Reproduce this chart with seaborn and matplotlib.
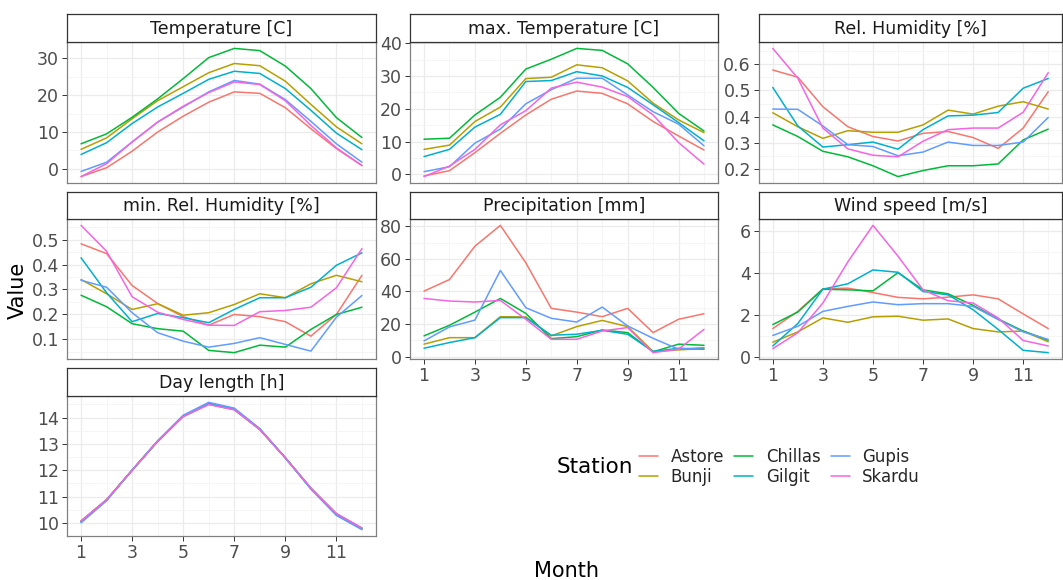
import numpy as np
import pandas as pd
import seaborn as sns
import matplotlib.pyplot as plt
from matplotlib.lines import Line2D

months = list(range(1, 13))
stations = ["Astore", "Bunji", "Chillas", "Gilgit", "Gupis", "Skardu"]
colors = ["#F8766D", "#B79F00", "#00BA38", "#00B0CC", "#619CFF", "#F564E3"]

variables = ["Temperature [C]", "max. Temperature [C]", "Rel. Humidity [%]",
             "min. Rel. Humidity [%]", "Precipitation [mm]", "Wind speed [m/s]",
             "Day length [h]"]

temperature = {
    "Astore":  [-2.1, 0.3, 4.8, 10.0, 14.3, 18.1, 20.9, 20.5, 16.6, 10.9, 5.5, 0.9],
    "Bunji":   [5.3, 8.4, 13.6, 18.5, 22.3, 26.1, 28.6, 28.0, 23.8, 17.5, 11.4, 6.8],
    "Chillas": [6.8, 9.5, 14.0, 19.0, 24.5, 30.2, 32.7, 32.1, 27.9, 21.8, 13.9, 8.5],
    "Gilgit":  [3.9, 7.1, 12.3, 16.8, 20.5, 24.3, 26.5, 25.9, 21.8, 15.9, 9.7, 5.2],
    "Gupis":   [-0.7, 1.8, 7.3, 12.7, 16.8, 20.9, 24.0, 23.0, 18.8, 12.9, 6.8, 1.8],
    "Skardu":  [-2.1, 1.4, 7.3, 12.7, 17.0, 20.7, 23.6, 22.9, 18.5, 11.8, 5.7, 0.9],
}
max_temperature = {
    "Astore":  [-0.5, 1.1, 6.6, 12.5, 18.1, 22.9, 25.4, 24.7, 21.5, 16.1, 11.7, 7.4],
    "Bunji":   [7.6, 8.9, 16.1, 20.5, 29.2, 29.6, 33.4, 32.5, 28.5, 21.7, 16.6, 12.7],
    "Chillas": [10.7, 11.0, 18.1, 23.5, 32.1, 35.1, 38.4, 37.8, 33.7, 26.5, 18.6, 13.2],
    "Gilgit":  [5.4, 7.6, 14.4, 18.3, 28.3, 28.6, 31.3, 30.0, 26.5, 21.2, 15.8, 10.2],
    "Gupis":   [0.8, 2.3, 9.5, 13.8, 21.5, 25.8, 29.3, 29.3, 24.2, 19.1, 15.3, 8.7],
    "Skardu":  [-0.7, 2.5, 7.6, 15.1, 19.4, 26.3, 28.1, 26.6, 23.7, 18.1, 9.7, 3.1],
}
rel_humidity = {
    "Astore":  [0.577, 0.550, 0.438, 0.362, 0.325, 0.308, 0.337, 0.344, 0.321, 0.280, 0.357, 0.495],
    "Bunji":   [0.415, 0.362, 0.318, 0.347, 0.341, 0.341, 0.369, 0.425, 0.410, 0.440, 0.457, 0.429],
    "Chillas": [0.369, 0.325, 0.269, 0.248, 0.214, 0.173, 0.196, 0.214, 0.214, 0.221, 0.312, 0.353],
    "Gilgit":  [0.511, 0.365, 0.285, 0.294, 0.304, 0.277, 0.351, 0.403, 0.406, 0.416, 0.508, 0.545],
    "Gupis":   [0.429, 0.428, 0.365, 0.294, 0.287, 0.252, 0.266, 0.304, 0.291, 0.291, 0.304, 0.397],
    "Skardu":  [0.659, 0.546, 0.357, 0.278, 0.254, 0.248, 0.307, 0.351, 0.357, 0.357, 0.417, 0.567],
}
min_rel_humidity = {
    "Astore":  [0.483, 0.444, 0.316, 0.244, 0.191, 0.157, 0.200, 0.191, 0.171, 0.113, 0.200, 0.357],
    "Bunji":   [0.340, 0.283, 0.220, 0.243, 0.197, 0.207, 0.240, 0.283, 0.267, 0.323, 0.357, 0.331],
    "Chillas": [0.277, 0.231, 0.163, 0.143, 0.133, 0.056, 0.047, 0.077, 0.069, 0.140, 0.200, 0.229],
    "Gilgit":  [0.427, 0.287, 0.171, 0.204, 0.187, 0.167, 0.220, 0.267, 0.267, 0.309, 0.397, 0.447],
    "Gupis":   [0.337, 0.309, 0.207, 0.127, 0.093, 0.069, 0.084, 0.107, 0.080, 0.053, 0.189, 0.276],
    "Skardu":  [0.557, 0.453, 0.271, 0.209, 0.180, 0.157, 0.156, 0.211, 0.216, 0.229, 0.307, 0.464],
}
precipitation = {
    "Astore":  [40.2, 47.3, 67.8, 80.6, 57.6, 29.6, 27.3, 24.5, 29.6, 14.7, 22.9, 26.3],
    "Bunji":   [7.6, 11.6, 11.6, 24.5, 24.3, 12.7, 18.4, 22.2, 18.4, 3.1, 4.1, 4.9],
    "Chillas": [12.7, 19.2, 27.3, 35.7, 26.5, 11.0, 12.2, 16.3, 14.7, 2.9, 7.6, 6.9],
    "Gilgit":  [5.1, 8.6, 11.6, 23.9, 23.9, 13.1, 13.7, 16.1, 13.7, 3.1, 5.1, 4.5],
    "Gupis":   [9.6, 18.2, 22.4, 52.9, 30.0, 23.5, 21.2, 30.4, 18.8, 11.2, 4.5, 5.5],
    "Skardu":  [35.7, 34.1, 33.5, 34.5, 22.9, 10.6, 10.6, 15.7, 17.8, 2.4, 4.5, 16.7],
}
wind_speed = {
    "Astore":  [1.34, 2.16, 3.24, 3.27, 3.06, 2.83, 2.76, 2.84, 2.95, 2.76, 2.04, 1.34],
    "Bunji":   [0.69, 1.18, 1.85, 1.64, 1.90, 1.93, 1.74, 1.80, 1.34, 1.18, 1.22, 0.71],
    "Chillas": [1.53, 2.13, 3.22, 3.19, 3.14, 4.01, 3.19, 3.00, 2.45, 1.80, 1.22, 0.79],
    "Gilgit":  [0.51, 1.58, 3.22, 3.48, 4.14, 4.03, 3.11, 2.95, 2.24, 1.30, 0.30, 0.19],
    "Gupis":   [1.01, 1.45, 2.16, 2.40, 2.61, 2.48, 2.53, 2.53, 2.40, 1.77, 1.18, 0.82],
    "Skardu":  [0.38, 1.14, 2.56, 4.53, 6.27, 4.80, 3.19, 2.67, 2.56, 1.85, 0.77, 0.51],
}
day_length = {
    "Astore":  [10.07, 10.88, 12.00, 13.10, 14.04, 14.50, 14.30, 13.55, 12.47, 11.32, 10.35, 9.80],
    "Bunji":   [10.05, 10.87, 12.00, 13.11, 14.06, 14.53, 14.32, 13.56, 12.47, 11.31, 10.32, 9.78],
    "Chillas": [10.06, 10.87, 12.00, 13.10, 14.05, 14.52, 14.31, 13.55, 12.47, 11.31, 10.33, 9.79],
    "Gilgit":  [10.03, 10.86, 12.00, 13.11, 14.07, 14.55, 14.34, 13.57, 12.47, 11.30, 10.30, 9.76],
    "Gupis":   [10.00, 10.84, 12.00, 13.12, 14.09, 14.58, 14.36, 13.58, 12.47, 11.28, 10.28, 9.74],
    "Skardu":  [10.07, 10.88, 12.00, 13.10, 14.04, 14.50, 14.30, 13.55, 12.47, 11.32, 10.35, 9.80],
}

y_breaks = {
    "Temperature [C]": [0, 10, 20, 30],
    "max. Temperature [C]": [0, 10, 20, 30, 40],
    "Rel. Humidity [%]": [0.2, 0.3, 0.4, 0.5, 0.6],
    "min. Rel. Humidity [%]": [0.1, 0.2, 0.3, 0.4, 0.5],
    "Precipitation [mm]": [0, 20, 40, 60, 80],
    "Wind speed [m/s]": [0, 2, 4, 6],
    "Day length [h]": [10, 11, 12, 13, 14],
}
x_breaks = [1, 3, 5, 7, 9, 11]

series = [temperature, max_temperature, rel_humidity, min_rel_humidity,
          precipitation, wind_speed, day_length]
rows = []
for var, d in zip(variables, series):
    for st in stations:
        for m, v in zip(months, d[st]):
            rows.append({"Variable": var, "Station": st, "Month": m, "Value": v})
df = pd.DataFrame(rows)

sns.set_style("white")
plt.rcParams["font.family"] = ["DejaVu Sans"]

W, H = 1063, 580
fig = plt.figure(figsize=(W / 100, H / 100), dpi=100)

col_x = [(67, 376), (410, 718), (759, 1062)]
row_y = [(14, 42, 183), (192, 219, 359), (368, 396, 536)]
bottom_axes = {"Day length [h]", "Precipitation [mm]", "Wind speed [m/s]"}

def fr(x0, x1, y0, y1):
    return [x0 / W, 1 - y1 / H, (x1 - x0) / W, (y1 - y0) / H]

for i, var in enumerate(variables):
    r, c = divmod(i, 3)
    x0, x1 = col_x[c]
    ys, yp, yb = row_y[r]
    ax = fig.add_axes(fr(x0, x1, yp, yb))
    sub = df[df["Variable"] == var]
    sns.lineplot(data=sub, x="Month", y="Value", hue="Station", hue_order=stations,
                 palette=colors, ax=ax, legend=False, linewidth=1.1)
    ax.margins(x=0.05, y=0.05)
    yb_ = y_breaks[var]
    ax.set_yticks(yb_)
    step = yb_[1] - yb_[0]
    ymin, ymax = ax.get_ylim()
    minors = [b + step / 2 for b in [yb_[0] - step] + yb_ if ymin <= b + step / 2 <= ymax]
    ax.set_yticks(minors, minor=True)
    ax.set_xticks(x_breaks)
    ax.set_xticks([2, 4, 6, 8, 10, 12], minor=True)
    ax.set_yticklabels([f"{b:g}" for b in yb_])
    ax.set_axisbelow(True)
    ax.grid(which="major", color="#EBEBEB", linewidth=0.9)
    ax.grid(which="minor", color="#F4F4F4", linewidth=0.6)
    ax.set_xlabel("")
    ax.set_ylabel("")
    for s in ax.spines.values():
        s.set_color("#808080")
        s.set_linewidth(0.9)
    ax.tick_params(axis="both", which="major", length=3.8, width=0.7, color="#333333",
                   labelsize=12.5, labelcolor="#4D4D4D", pad=2)
    ax.tick_params(axis="both", which="minor", length=0)
    ax.tick_params(axis="y", left=True)
    if var in bottom_axes:
        ax.tick_params(axis="x", bottom=True, labelbottom=True)
    else:
        ax.tick_params(axis="x", bottom=False, labelbottom=False)
    # strip
    sax = fig.add_axes(fr(x0, x1, ys, yp))
    sax.set_xticks([])
    sax.set_yticks([])
    sax.set_facecolor("white")
    for s in sax.spines.values():
        s.set_color("#333333")
        s.set_linewidth(0.9)
    sax.text(0.5, 0.47, var, ha="center", va="center", fontsize=12.5, color="#1A1A1A",
             transform=sax.transAxes)

fig.text(18 / W, 1 - 290 / H, "Value", rotation=90, ha="center", va="center",
         fontsize=15, color="black")
fig.text(567 / W, 1 - 571 / H, "Month", ha="center", va="center",
         fontsize=15, color="black")

fig.text(557 / W, 1 - 467 / H, "Station", ha="left", va="center", fontsize=15.5,
         color="black")
handles = [Line2D([0], [0], color=c, lw=1.1) for c in colors]
fig.legend(handles, stations, loc="center left", bbox_to_anchor=(639 / W, 1 - 467 / H),
           ncol=3, frameon=False, fontsize=12, handlelength=1.15, handletextpad=0.75,
           columnspacing=0.6, labelspacing=0.12, borderaxespad=0, borderpad=0)

fig.savefig("out.png", dpi=100, facecolor="white")
